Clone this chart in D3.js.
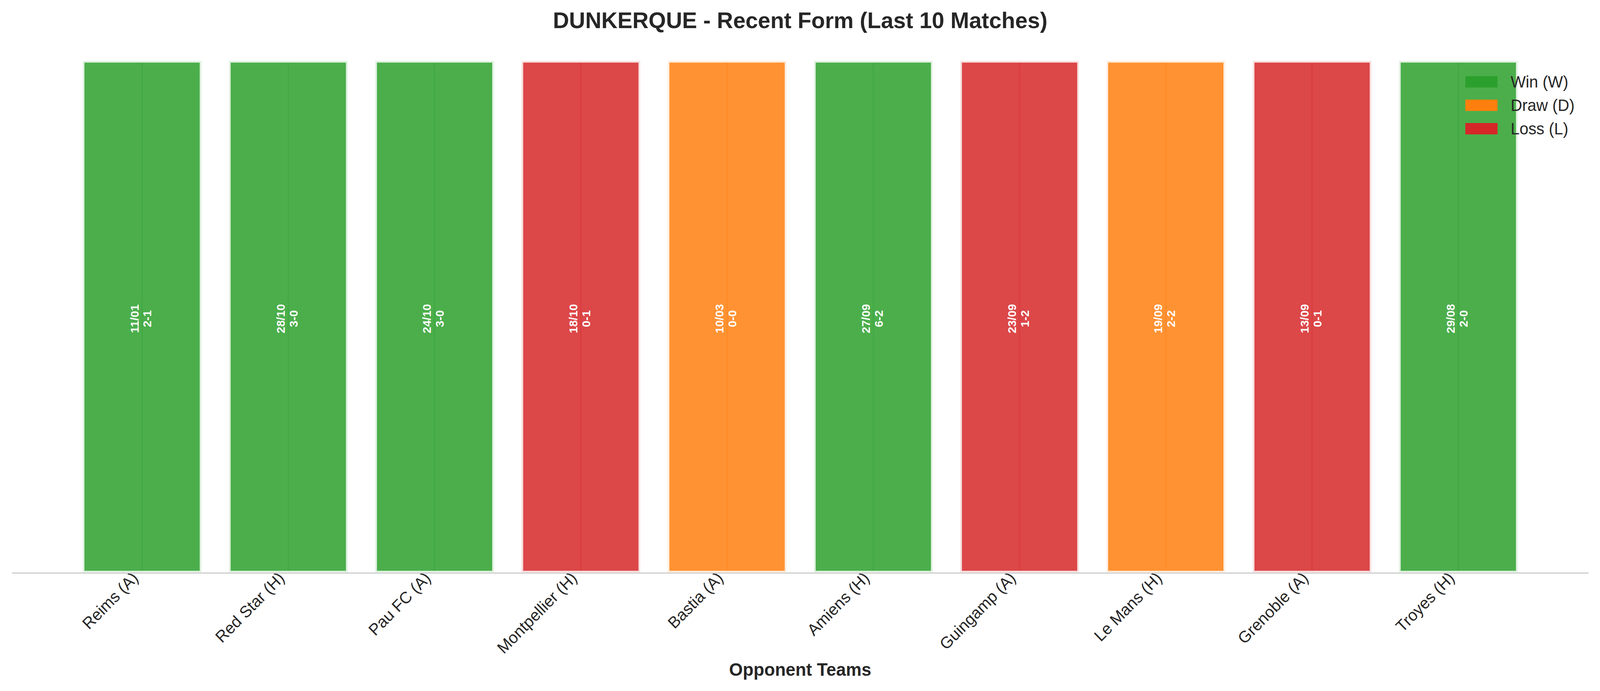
<!DOCTYPE html>
<html>
<head>
<meta charset="utf-8">
<script src="https://cdn.jsdelivr.net/npm/d3@7"></script>
<style>
  html, body { margin: 0; padding: 0; background: #fff; overflow: hidden; }
  svg { display: block; width: 100vw; height: 100vh; }
  text { font-family: "Liberation Sans", Arial, sans-serif; }
</style>
</head>
<body>
<script>
let opponents = ["Reims (A)", "Red Star (H)", "Pau FC (A)", "Montpellier (H)", "Bastia (A)", "Amiens (H)", "Guingamp (A)", "Le Mans (H)", "Grenoble (A)", "Troyes (H)"];
let dates = ["11/01", "28/10", "24/10", "18/10", "10/03", "27/09", "23/09", "19/09", "13/09", "29/08"];
let scores = ["2-1", "3-0", "3-0", "0-1", "0-0", "6-2", "1-2", "2-2", "0-1", "2-0"];
let results = ["W", "W", "W", "L", "D", "W", "L", "D", "L", "W"];
let barHeights = [1, 1, 1, 1, 1, 1, 1, 1, 1, 1];

let legendKeys = ["W", "D", "L"];
let legendLabels = ["Win (W)", "Draw (D)", "Loss (L)"];

let width = 4170;
let height = 1769;

let colors = {W: "#2ca02c", D: "#ff7f0e", L: "#d62728"};
let textColor = "#262626";

let x = d3.scaleLinear().domain([-0.89, 9.89]).range([31, 4140]);
let y = d3.scaleLinear().domain([0, 1]).range([1463.5, 158]);
let barW = 0.8;

// viewport can be narrower than 4170, so stretch the drawing to fill it
let svg = d3.select("body").append("svg")
    .attr("viewBox", "0 0 " + width + " " + height)
    .attr("preserveAspectRatio", "none");

// title
svg.append("text")
    .attr("x", (x.range()[0] + x.range()[1]) / 2)
    .attr("y", 72.5)
    .attr("text-anchor", "middle")
    .attr("font-size", 58.3)
    .attr("font-weight", "bold")
    .attr("fill", textColor)
    .text("DUNKERQUE - Recent Form (Last 10 Matches)");

// x axis (bottom spine only)
let xAxis = d3.axisBottom(x)
    .tickValues(d3.range(opponents.length))
    .tickFormat((i) => opponents[i])
    .tickSize(0)
    .tickSizeOuter(0);

let axisG = svg.append("g").attr("transform", "translate(0," + 1466.5 + ")").call(xAxis);
axisG.select(".domain").attr("stroke", "#cccccc").attr("stroke-width", 3);
axisG.selectAll(".tick text")
    .attr("font-size", 41.67)
    .attr("font-family", "Liberation Sans, Arial, sans-serif")
    .attr("fill", textColor)
    .attr("text-anchor", "end")
    .attr("x", -8)
    .attr("y", 16)
    .attr("dy", 0)
    .attr("transform", "rotate(-45 -8 16)");

// bars
let bars = svg.selectAll("g.bar").data(results).enter().append("g").attr("class", "bar");

bars.append("rect")
    .attr("x", (d, i) => x(i - barW / 2))
    .attr("y", (d, i) => y(barHeights[i]))
    .attr("width", x(barW) - x(0))
    .attr("height", (d, i) => y(0) - y(barHeights[i]))
    .attr("fill", (d) => colors[d])
    .attr("fill-opacity", 0.85)
    .attr("stroke", (d) => d3.interpolateRgb(colors[d], "#ffffff")(0.86))
    .attr("stroke-width", 4.5);

// faint centre line showing through each bar
bars.append("line")
    .attr("x1", (d, i) => x(i))
    .attr("x2", (d, i) => x(i))
    .attr("y1", (d, i) => y(barHeights[i]) + 2.5)
    .attr("y2", y(0) - 2.5)
    .attr("stroke", (d) => colors[d])
    .attr("stroke-opacity", 0.3)
    .attr("stroke-width", 3);

// date / score labels
bars.append("text")
    .attr("transform", (d, i) => "translate(" + (x(i) - 3) + "," + (y(0.5) + 5) + ") rotate(-90)")
    .attr("text-anchor", "middle")
    .attr("font-size", 30)
    .attr("font-weight", "bold")
    .attr("fill", "#ffffff")
    .each(function (d, i) {
        let t = d3.select(this);
        t.append("tspan").attr("x", 0).attr("y", -6.25).text(dates[i]);
        t.append("tspan").attr("x", 0).attr("y", 27.25).text(scores[i]);
    });

// x label
svg.append("text")
    .attr("x", (x.range()[0] + x.range()[1]) / 2)
    .attr("y", 1730)
    .attr("text-anchor", "middle")
    .attr("font-size", 45.8)
    .attr("font-weight", "bold")
    .attr("fill", textColor)
    .text("Opponent Teams");

// legend
let legend = svg.append("g").attr("transform", "translate(3819,195)");
let items = legend.selectAll("g").data(legendKeys).enter().append("g")
    .attr("transform", (d, i) => "translate(0," + (i * 60) + ")");

items.append("rect")
    .attr("width", 84)
    .attr("height", 29)
    .attr("fill", (d) => colors[d]);

items.append("text")
    .attr("x", 118)
    .attr("y", 14.5)
    .attr("dy", "0.35em")
    .attr("font-size", 41.67)
    .attr("fill", textColor)
    .text((d, i) => legendLabels[i]);
</script>
</body>
</html>
